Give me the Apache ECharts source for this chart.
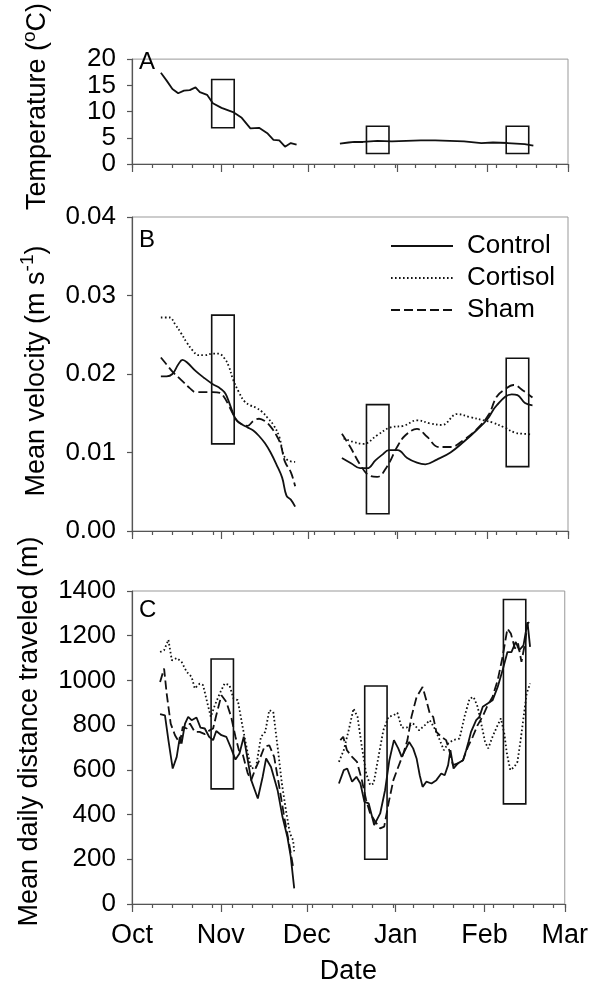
<!DOCTYPE html>
<html>
<head>
<meta charset="utf-8">
<script src="https://cdn.jsdelivr.net/npm/echarts@6/dist/echarts.min.js"></script>
<style>
	html, body { margin: 0; padding: 0; background: #fff; }
	#chart_id { width: 591px; height: 991px; }
</style>
</head>
<body>
<div id="chart_id"></div>
<script>
// days counted from 1 Oct; null = no data (gap in Dec)
var monthDays = [0, 31, 61, 92, 123, 151];
var monthNames = ['Oct', 'Nov', 'Dec', 'Jan', 'Feb', 'Mar'];

// A - temperature
var tempDays = [10, 12, 14, 16, 18, 20, 22, 23.5, 26, 28, 31, 35, 38, 41, 44, 47, 49, 51, 53, 55, 57,
	64, 72, 75, 77, 80, 85, 90, 95, 100, 105, 110, 115, 121, 125, 130, 133, 136, 139];
var tempValues = [17.4, 15.9, 14.3, 13.5, 14.0, 14.1, 14.6, 13.7, 13.2, 11.6, 10.7, 9.9, 8.8, 6.8, 6.9, 5.8, 4.6, 4.5, 3.3, 4.0, 3.7,
	null, 3.9, 4.1, 4.2, 4.2, 4.4, 4.3, 4.4, 4.5, 4.5, 4.4, 4.3, 4.0, 4.1, 4.0, 3.9, 3.8, 3.5];

// B - mean velocity
var velControlDays = [10, 12, 14, 16, 17.5, 19, 22, 25, 28, 30, 32, 33, 34.5, 36, 38, 40, 42, 44, 46, 48, 50, 52, 53.5, 55, 56.5,
	64, 72.7, 76, 79, 81.5, 84.3, 86.6, 89, 92, 95.3, 98.7, 101.6, 105.6, 110.3, 115, 119.5, 123, 126.3, 131.5, 133.5, 136.1, 138.7];
var velControl = [0.0197, 0.0197, 0.0200, 0.0212, 0.0218, 0.0215, 0.0204, 0.0195, 0.0187, 0.0183, 0.0177, 0.0170, 0.0155, 0.0142, 0.0136, 0.0132, 0.0128, 0.0121, 0.0112, 0.0100, 0.0085, 0.0068, 0.0045, 0.0040, 0.0031,
	null, 0.0093, 0.0086, 0.0080, 0.0080, 0.0090, 0.0097, 0.0103, 0.0103, 0.0093, 0.0087, 0.0085, 0.0091, 0.0100, 0.0114, 0.0129, 0.0142, 0.0160, 0.0174, 0.0173, 0.0163, 0.0160];
var velCortisolDays = [10, 13, 15, 17, 19, 21, 23, 25, 28, 30, 32, 33.5, 35, 37, 39, 41, 43, 45, 47, 49, 51, 52.5, 54, 56.5,
	64, 73.3, 76.2, 80.2, 84.9, 89.5, 94.1, 98.7, 103.3, 107.4, 112.6, 117.2, 121.8, 125, 128.9, 132.8, 135, 138.7];
var velCortisol = [0.0272, 0.0272, 0.0263, 0.0252, 0.0240, 0.0230, 0.0224, 0.0224, 0.0226, 0.0226, 0.0220, 0.0210, 0.0193, 0.0177, 0.0165, 0.0160, 0.0157, 0.0152, 0.0144, 0.0135, 0.0120, 0.0097, 0.0090, 0.0088,
	null, 0.0118, 0.0114, 0.0111, 0.0122, 0.0132, 0.0134, 0.0141, 0.0137, 0.0135, 0.0149, 0.0145, 0.0141, 0.0138, 0.0132, 0.0125, 0.0124, 0.0123];
var velShamDays = [10, 12, 14, 16, 18, 20, 22, 25, 28, 30.5, 32, 33.5, 35, 36.5, 38, 40, 42, 44, 46, 48, 50, 51.5, 53, 55, 56.5,
	64, 72.7, 75.6, 79.1, 82, 84.9, 88.3, 91.8, 94.7, 98.7, 102.2, 106.2, 110.3, 114.9, 119.5, 123.5, 126.3, 129, 132.2, 135.4, 138.7];
var velSham = [0.0221, 0.0212, 0.0203, 0.0196, 0.0189, 0.0182, 0.0177, 0.0177, 0.0177, 0.0176, 0.0170, 0.0160, 0.0149, 0.0140, 0.0136, 0.0134, 0.0140, 0.0143, 0.0140, 0.0133, 0.0122, 0.0110, 0.0088, 0.0075, 0.0057,
	null, 0.0124, 0.0107, 0.0084, 0.0071, 0.0069, 0.0082, 0.0107, 0.0122, 0.0130, 0.0120, 0.0107, 0.0107, 0.0116, 0.0130, 0.0148, 0.0171, 0.0180, 0.0186, 0.0179, 0.0170];

// C - mean daily distance
var distControlDays = [9.8, 11.5, 12.7, 14.2, 15.6, 16.7, 17.3, 18.5, 19.6, 20.8, 22.5, 23.9, 25.4, 26.9, 28.3, 29.4, 31.2, 32.9, 34.6, 36.1, 37.5, 39, 40.4, 41.6, 43.9, 45.6, 46.8, 48.5, 50.8, 52.5, 54.2, 55.4, 56.6,
	64, 72.2, 73.9, 75.1, 76.8, 78.3, 79.7, 81.1, 82.6, 84.5, 86.6, 88.3, 89.8, 91.4, 92.9, 94.1, 95.3, 96.7, 98.1, 99.3, 100.4, 101.4, 102.7, 104.5, 106.2, 107.9, 109.1, 110.3, 111.1, 112.2, 113.7, 115.5, 116.6, 117.4, 118.3, 120.1, 121.2, 122.4, 124.1, 125.8, 127.6, 129.3, 131, 132.4, 133.9, 135.1, 136.6, 138, 138.9];
var distControl = [849, 844, 733, 606, 658, 748, 718, 807, 837, 822, 834, 789, 785, 748, 733, 774, 755, 748, 696, 646, 673, 748, 643, 554, 472, 569, 651, 613, 509, 390, 301, 211, 70,
	null, 539, 599, 606, 547, 569, 539, 457, 450, 353, 405, 509, 643, 733, 696, 658, 688, 725, 696, 651, 576, 524, 547, 539, 554, 584, 576, 621, 688, 606, 629, 643, 688, 725, 770, 822, 837, 882, 897, 911, 971, 1045, 1127, 1127, 1172, 1135, 1157, 1261, 1150];
var distCortisolDays = [9.8, 11.2, 12.7, 13.9, 15.6, 17.3, 19.1, 20.8, 21.9, 23.6, 24.8, 26.2, 27.5, 28.9, 30.6, 32.3, 34, 35.4, 36.9, 38.7, 40.4, 41.6, 43.3, 45, 46.5, 47.9, 49.3, 50.8, 52.3, 53.7, 55.1, 56.2, 56.6,
	64, 72.2, 73.9, 75.6, 77.3, 78.7, 80.2, 81.7, 83.1, 84.3, 86, 87.7, 89.5, 91.2, 92.6, 94.1, 95.8, 98.1, 100.2, 102.2, 103.9, 105.6, 107.4, 108.8, 110.3, 112, 114.3, 116, 117.8, 119.2, 120.6, 122.1, 123.2, 124.3, 125.8, 127.3, 128.7, 129.9, 130.8, 132, 133.4, 134.5, 135.6, 136.8, 137.7, 138.9];
var distCortisol = [1127, 1135, 1182, 1090, 1100, 1083, 1038, 1016, 964, 986, 979, 904, 837, 889, 941, 986, 979, 919, 912, 785, 673, 606, 613, 748, 770, 867, 859, 703, 539, 420, 316, 286, 235,
	null, 636, 688, 777, 874, 837, 703, 584, 532, 539, 658, 777, 837, 844, 855, 789, 789, 807, 777, 800, 822, 785, 733, 688, 718, 733, 740, 837, 919, 926, 882, 792, 725, 696, 748, 792, 830, 763, 673, 599, 613, 636, 733, 852, 941, 986];
var distShamDays = [9.8, 11.2, 12.1, 13.5, 15, 16.7, 17.7, 19.1, 20.2, 21.9, 23.6, 25.4, 27.1, 28.3, 29.4, 31.2, 32.9, 34.6, 36.1, 37.3, 38.7, 40.4, 41.6, 43.1, 44.4, 46.2, 47.9, 49.6, 51.4, 53.1, 54.6, 56.2,
	64, 72.7, 73.7, 75, 76.8, 78.5, 80.2, 81.7, 83.1, 84.9, 86.6, 88, 89.5, 91.2, 92.9, 94.7, 96.1, 97.5, 99.3, 101.4, 102.7, 103.9, 105.1, 106.2, 107.9, 109.6, 110.7, 112, 113.7, 115.5, 117.2, 118.9, 120.6, 122.4, 124.1, 125.8, 127.6, 129.3, 131, 132.2, 133.6, 134.7, 135.9, 137.1, 138, 138.6];
var distSham = [993, 1053, 941, 807, 755, 718, 792, 785, 807, 770, 770, 760, 777, 785, 844, 934, 904, 837, 748, 688, 666, 584, 554, 606, 643, 703, 710, 658, 524, 390, 286, 167,
	null, 733, 748, 688, 658, 636, 554, 465, 405, 368, 338, 346, 450, 554, 613, 673, 733, 837, 926, 971, 911, 852, 837, 770, 748, 733, 688, 621, 629, 643, 703, 748, 800, 840, 889, 926, 1001, 1105, 1232, 1210, 1143, 1165, 1083, 1165, 1254, 1261];

// sampling periods (boxes): start/end day, and top/bottom per panel
var boxStart = [27.6, 81.2, 129.6];
var boxEnd = [35.4, 89.0, 137.4];
var boxTempTop = [16.1, 7.2, 7.2];
var boxTempBottom = [6.9, 2.0, 2.0];
var boxVelTop = [0.0275, 0.0161, 0.0220];
var boxVelBottom = [0.0111, 0.0022, 0.0082];
var boxDistTop = [1096, 975, 1362];
var boxDistBottom = [515, 200, 448];

var FONT = 'Liberation Sans, Arial, Helvetica, sans-serif';
var AXIS_COLOR = '#555';
var LINE_COLOR = '#111';

function pairs(days, values) {
	return days.map(function(d, i) {
		return [d, values[i] === null ? '-' : values[i]];
	});
}

function boxes(top, bottom) {
	return boxStart.map(function(s, i) {
		return [ { coord : [ s, top[i] ] }, { coord : [ boxEnd[i], bottom[i] ] } ];
	});
}

function markBoxes(top, bottom) {
	return {
		silent : true,
		label : { show : false },
		itemStyle : { color : 'rgba(0,0,0,0)', borderColor : LINE_COLOR, borderWidth : 1.6 },
		data : boxes(top, bottom)
	};
}

function mainX(g, showLabels) {
	return {
		type : 'value',
		gridIndex : g,
		position : 'bottom',
		min : 0,
		max : 151,
		axisLine : { show : true, lineStyle : { color : AXIS_COLOR, width : 1.2 } },
		axisTick : { show : true, customValues : monthDays, length : 8, lineStyle : { color : AXIS_COLOR, width : 1.2 } },
		axisLabel : {
			show : showLabels,
			customValues : monthDays,
			formatter : function(v) {
				return monthNames[monthDays.indexOf(v)];
			},
			fontSize : 27,
			fontFamily : FONT,
			color : '#000',
			margin : 18
		},
		splitLine : { show : false },
		name : showLabels ? 'Date' : '',
		nameLocation : 'middle',
		nameGap : 54,
		nameTextStyle : { fontSize : 27, fontFamily : FONT, color : '#000' }
	};
}

// weekly minor ticks
function minorX(g) {
	return {
		type : 'value',
		gridIndex : g,
		position : 'bottom',
		min : 0,
		max : 151,
		interval : 7,
		axisLine : { show : false },
		axisTick : { show : true, length : 4, lineStyle : { color : AXIS_COLOR, width : 1.2 } },
		axisLabel : { show : false },
		splitLine : { show : false }
	};
}

function yAxis(g, max, interval, name, shift, fmt) {
	return {
		type : 'value',
		gridIndex : g,
		min : 0,
		max : max,
		interval : interval,
		axisLine : { show : true, lineStyle : { color : AXIS_COLOR, width : 1.2 } },
		axisTick : { show : true, length : 5, lineStyle : { color : AXIS_COLOR, width : 1.2 } },
		axisLabel : {
			fontSize : 26,
			fontFamily : FONT,
			color : '#000',
			margin : 16,
			formatter : fmt || function(v) { return String(v); }
		},
		splitLine : { show : false },
		name : name,
		nameLocation : 'middle',
		nameGap : 76,
		nameTextStyle : {
			fontSize : 27,
			fontFamily : FONT,
			color : '#000',
			lineHeight : 36,
			padding : [ 0, 0, 0, shift ],
			rich : {
				sup : { fontSize : 19, fontFamily : FONT, color : '#000', lineHeight : 18, verticalAlign : 'top' }
			}
		}
	};
}

function line(name, g, data, type, smooth, area) {
	var s = {
		name : name,
		type : 'line',
		xAxisIndex : g * 2,
		yAxisIndex : g,
		data : data,
		symbol : 'none',
		showSymbol : false,
		connectNulls : false,
		smooth : smooth,
		lineStyle : { color : LINE_COLOR, width : 1.8, type : type },
		itemStyle : { color : LINE_COLOR }
	};
	if (area) {
		s.markArea = area;
	}
	return s;
}

var myChart = echarts.init(document.getElementById('chart_id'), null, { renderer : 'canvas' });

var DOTTED = [ 1.6, 2.4 ];
var DASHED = [ 9, 4 ];
var letterStyle = { fontSize : 24, fontWeight : 'normal', fontFamily : FONT, color : '#000' };

var option = {
	animation : false,
	backgroundColor : '#fff',
	title : [
		{ text : 'A', left : 139, top : 50, padding : 0, textStyle : letterStyle },
		{ text : 'B', left : 139, top : 228, padding : 0, textStyle : letterStyle },
		{ text : 'C', left : 139, top : 598, padding : 0, textStyle : letterStyle }
	],
	legend : {
		data : [ 'Control', 'Cortisol', 'Sham' ],
		orient : 'vertical',
		left : 385,
		top : 228,
		itemWidth : 62,
		itemHeight : 14,
		itemGap : 6,
		selectedMode : false,
		itemStyle : { color : 'rgba(0,0,0,0)', borderWidth : 0, opacity : 0 },
		textStyle : { fontSize : 26, fontFamily : FONT, color : '#000', padding : [ 0, 0, 0, 9 ] }
	},
	grid : [
		{ left : 132, top : 42, width : 436, height : 122, show : true, borderColor : '#999', borderWidth : 1 },
		{ left : 132, top : 217, width : 436, height : 314, show : true, borderColor : '#999', borderWidth : 1 },
		{ left : 132, top : 591, width : 436, height : 313, show : true, borderColor : '#999', borderWidth : 1 }
	],
	xAxis : [ mainX(0, false), minorX(0), mainX(1, false), minorX(1), mainX(2, true), minorX(2) ],
	yAxis : [
		yAxis(0, 20, 5, 'Temperature ({sup|o}C)', 10),
		yAxis(1, 0.04, 0.01, 'Mean velocity (m s{sup|-1})', 6, function(v) { return v.toFixed(2); }),
		yAxis(2, 1400, 200, 'Mean daily distance traveled (m)', 32)
	],
	series : [
		line('Temperature', 0, pairs(tempDays, tempValues), 'solid', false, markBoxes(boxTempTop, boxTempBottom)),
		line('Control', 1, pairs(velControlDays, velControl), 'solid', 0.4, markBoxes(boxVelTop, boxVelBottom)),
		line('Cortisol', 1, pairs(velCortisolDays, velCortisol), DOTTED, 0.4),
		line('Sham', 1, pairs(velShamDays, velSham), DASHED, 0.4),
		line('Control', 2, pairs(distControlDays, distControl), 'solid', false, markBoxes(boxDistTop, boxDistBottom)),
		line('Cortisol', 2, pairs(distCortisolDays, distCortisol), DOTTED, false),
		line('Sham', 2, pairs(distShamDays, distSham), DASHED, false)
	]
};

myChart.setOption(option);
</script>
</body>
</html>
